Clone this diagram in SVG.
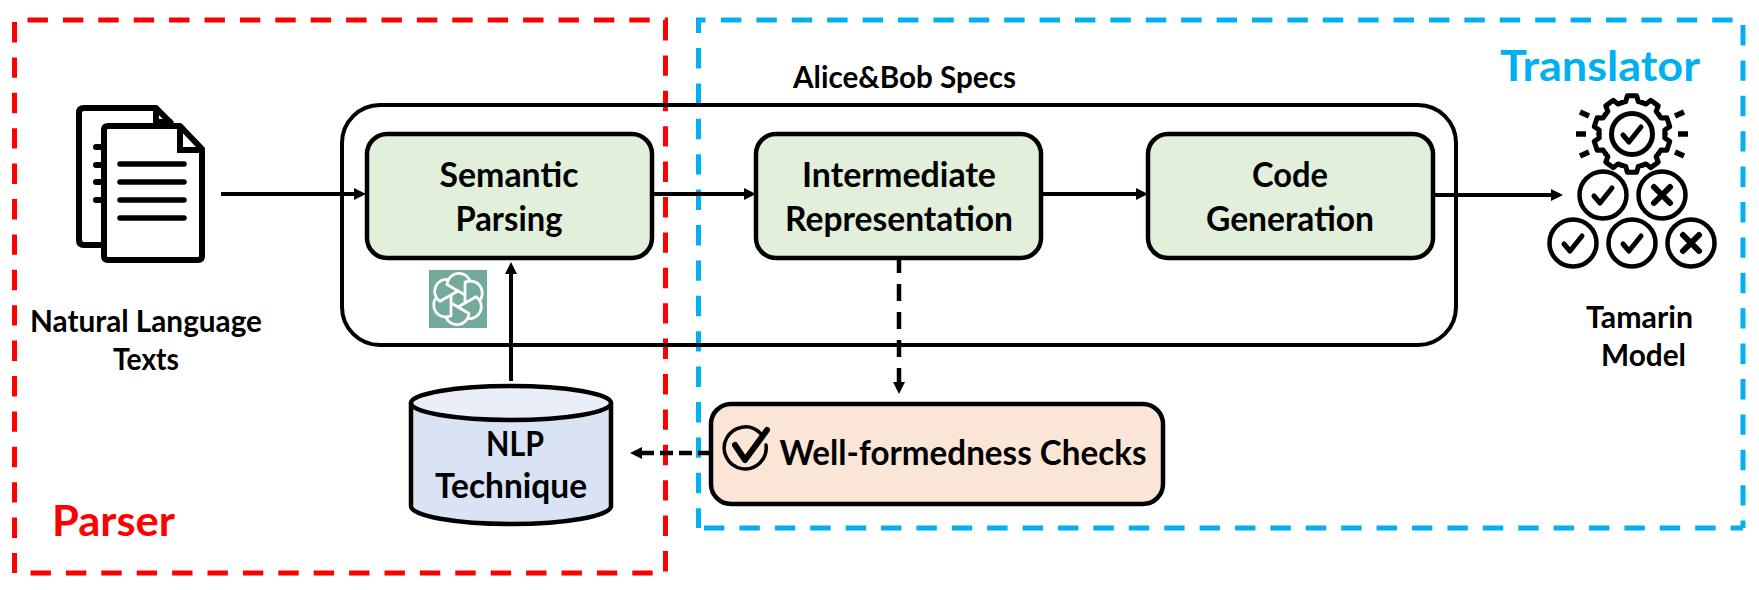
<svg xmlns="http://www.w3.org/2000/svg" width="1759" height="590" viewBox="0 0 1759 590">
<style>
text{font-family:Lato,"Liberation Sans",sans-serif;font-weight:700;fill:#000;text-anchor:middle}
.t26{font-size:30px}.t30{font-size:34px}.t32{font-size:34px}
.box{stroke:#000;stroke-width:4.5;fill:#E2EFDA}
.ln{stroke:#000;stroke-width:4;fill:none}
.dl{stroke:#000;stroke-width:4.500;fill:none}
.ic{stroke:#000;stroke-width:5;fill:none;stroke-linecap:round;stroke-linejoin:round}
.red{fill:none;stroke:#FF0000;stroke-width:5;stroke-dasharray:20.400 15}
.blue{fill:none;stroke:#00B0F0;stroke-width:5;stroke-dasharray:20.400 15}
</style>
<defs>
<marker id="a" markerUnits="userSpaceOnUse" markerWidth="13" markerHeight="13" refX="1" refY="6" orient="auto"><path d="M0 0L12 6L0 12Z" fill="#000"/></marker>
<path id="tooth" d="M-10.2-31.4L-6.3-32.4L-4.7-38.2L4.7-38.2L6.3-32.4L10.2-31.4" class="ic"/>
<path id="ok" d="M-9 1L-3 8L9-7" class="ic"/>
<path id="no" d="M-8-8L8 8M8-8L-8 8" class="ic" style="stroke-width:6"/>
<circle id="ring" r="23.5" class="ic" style="stroke-width:4.5"/>
<path id="petal" d="M7-4L-11-14.500A12 12 0 0 1 12.500-17" fill="none" stroke="#fff" stroke-width="2.800" stroke-linejoin="round"/>
</defs>
<g id="parser-frame">
<path class="red" d="M27.5 20H668"/><path class="red" d="M665.500 20V573"/><path class="red" d="M30.500 573H653"/><path class="red" d="M14.500 22V573"/>
<text x="113.500" y="536" style="font-size:42px;fill:#FF0000" textLength="123" lengthAdjust="spacingAndGlyphs">Parser</text>
</g>
<g id="translator-frame">
<path d="M698.500 33V20H705.500" fill="none" stroke="#00B0F0" stroke-width="5"/>
<path class="blue" d="M698.500 48V528"/><path class="blue" d="M721 20H1733"/><path class="blue" d="M1743 25V528"/><path class="blue" d="M704 528H1743"/>
<text x="1600" y="81" style="font-size:42px;fill:#00B0F0" textLength="200" lengthAdjust="spacingAndGlyphs">Translator</text>
</g>
<g id="alice-bob-specs">
<rect x="342" y="105" width="1114" height="240" rx="38" fill="none" stroke="#000" stroke-width="4"/>
<text x="904.500" y="88" style="font-size:30px" textLength="223" lengthAdjust="spacingAndGlyphs">Alice&amp;Bob Specs</text>
</g>
<g id="semantic-parsing">
<rect class="box" x="367" y="134" width="285" height="124" rx="20"/>
<text class="t30" x="509" y="187" textLength="139" lengthAdjust="spacingAndGlyphs">Semantic</text><text class="t30" x="509" y="231" textLength="107" lengthAdjust="spacingAndGlyphs">Parsing</text>
</g>
<g id="intermediate-representation">
<rect class="box" x="756" y="134" width="285" height="124" rx="20"/>
<text class="t30" x="899" y="187" textLength="194" lengthAdjust="spacingAndGlyphs">Intermediate</text><text class="t30" x="899" y="231" textLength="228" lengthAdjust="spacingAndGlyphs">Representation</text>
</g>
<g id="code-generation">
<rect class="box" x="1148" y="134" width="285" height="124" rx="20"/>
<text class="t30" x="1290" y="187" textLength="76" lengthAdjust="spacingAndGlyphs">Code</text><text class="t30" x="1290" y="231" textLength="168" lengthAdjust="spacingAndGlyphs">Generation</text>
</g>
<g id="well-formedness-checks">
<rect x="711" y="404" width="452" height="100" rx="20" fill="#FBE5D6" stroke="#000" stroke-width="4.500"/>
<path d="M760 433A21 21 0 1 0 766 445" class="ic" style="stroke-width:3.500"/>
<path d="M735 445L745 460L767 430" class="ic" style="stroke-width:6"/>
<text x="963" y="465" style="font-size:34px" textLength="367" lengthAdjust="spacingAndGlyphs">Well-formedness Checks</text>
</g>
<g id="nlp-technique">
<path d="M411 403V506C411 516 456 524 511 524S611 516 611 506V403Z" fill="#DAE3F3" stroke="#000" stroke-width="4.500" stroke-linejoin="round"/>
<ellipse cx="511" cy="403" rx="100" ry="17" fill="#E9EEF8" stroke="#000" stroke-width="4.500"/>
<text class="t32" x="515" y="456" textLength="58" lengthAdjust="spacingAndGlyphs">NLP</text><text class="t32" x="511" y="498" textLength="152" lengthAdjust="spacingAndGlyphs">Technique</text>
</g>
<g id="gpt-logo">
<rect x="429" y="270" width="58" height="58" fill="#74AA9C"/>
<g transform="translate(458 299)">
<use href="#petal"/><use href="#petal" transform="rotate(60)"/><use href="#petal" transform="rotate(120)"/><use href="#petal" transform="rotate(180)"/><use href="#petal" transform="rotate(240)"/><use href="#petal" transform="rotate(300)"/>
</g>
</g>
<g id="natural-language-texts">
<path d="M101 245H84Q79 245 79 240V113Q79 108 84 108H156L172 124" fill="#fff" stroke="#000" stroke-width="6" stroke-linejoin="round"/>
<path d="M156 108V122H172" fill="none" stroke="#000" stroke-width="6"/>
<path d="M96 147H101M96 165H101M96 182H101M96 200H101" stroke="#000" stroke-width="6" stroke-linecap="round"/>
<path d="M180 126H108Q104 126 104 130V256Q104 260 108 260H198Q202 260 202 256V149Z" fill="#fff" stroke="#000" stroke-width="6" stroke-linejoin="round"/>
<path d="M180 126V150H202" fill="none" stroke="#000" stroke-width="6"/>
<path d="M120 164H184M120 182H184M120 200H184M120 218H184" stroke="#000" stroke-width="5.500" stroke-linecap="round"/>
<text class="t26" x="146" y="332" textLength="232" lengthAdjust="spacingAndGlyphs">Natural Language</text><text class="t26" x="146" y="370" textLength="66" lengthAdjust="spacingAndGlyphs">Texts</text>
</g>
<g id="tamarin-model">
<g transform="translate(1632 134)">
<use href="#tooth"/><use href="#tooth" transform="rotate(36)"/><use href="#tooth" transform="rotate(72)"/><use href="#tooth" transform="rotate(108)"/><use href="#tooth" transform="rotate(144)"/><use href="#tooth" transform="rotate(180)"/><use href="#tooth" transform="rotate(216)"/><use href="#tooth" transform="rotate(252)"/><use href="#tooth" transform="rotate(288)"/><use href="#tooth" transform="rotate(324)"/>
<circle r="20.500" class="ic"/><use href="#ok"/>
<path d="M-56 0H-46M46 0H56M-52-22L-43-18M52-22L43-18M-52 22L-43 18M52 22L43 18" class="ic" style="stroke-linecap:butt;stroke-width:5.500"/>
</g>
<g transform="translate(1603 195)"><use href="#ring"/><use href="#ok"/></g>
<g transform="translate(1662 195)"><use href="#ring"/><use href="#no"/></g>
<g transform="translate(1573 243)"><use href="#ring"/><use href="#ok"/></g>
<g transform="translate(1632 243)"><use href="#ring"/><use href="#ok"/></g>
<g transform="translate(1691 243)"><use href="#ring"/><use href="#no"/></g>
<text class="t26" x="1639.500" y="328" textLength="107" lengthAdjust="spacingAndGlyphs">Tamarin</text><text class="t26" x="1643.500" y="366" textLength="85" lengthAdjust="spacingAndGlyphs">Model</text>
</g>
<g id="connectors">
<path class="ln" d="M221 194H355" marker-end="url(#a)"/>
<path class="ln" d="M652 194H745" marker-end="url(#a)"/>
<path class="ln" d="M1041 194H1137" marker-end="url(#a)"/>
<path class="ln" d="M1433 195H1552" marker-end="url(#a)"/>
<path class="ln" d="M511 381V273" marker-end="url(#a)"/>
<path class="dl" d="M899 258V383" stroke-dasharray="17 11" stroke-dashoffset="2" marker-end="url(#a)"/>
<path class="dl" d="M711 453H641" stroke-dasharray="13 6" marker-end="url(#a)"/>
</g>
</svg>
